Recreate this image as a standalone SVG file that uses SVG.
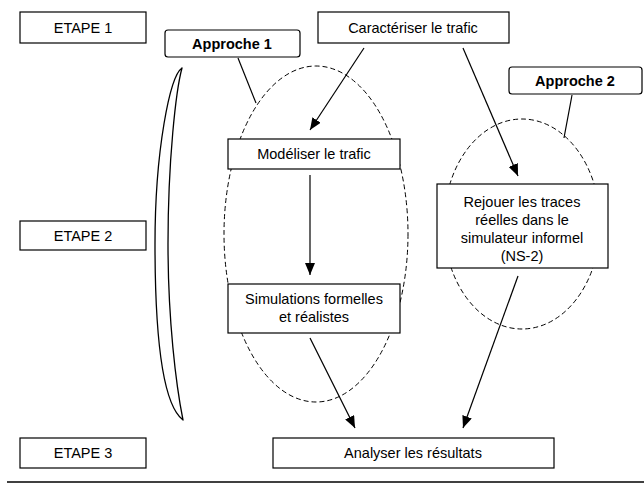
<svg xmlns="http://www.w3.org/2000/svg" width="644" height="486" viewBox="0 0 644 486">
<style>
.box{fill:#fff;stroke:#000;stroke-width:1.2}
.t{font-family:"Liberation Sans",Arial,sans-serif;font-size:14.5px;fill:#000;text-anchor:middle}
.b{font-weight:bold}
.dash{fill:none;stroke:#000;stroke-width:1;stroke-dasharray:5,3}
.ln{fill:none;stroke:#000;stroke-width:1.2}
</style>
<defs>
<marker id="ah" viewBox="0 0 12 10" refX="12" refY="5" markerWidth="12" markerHeight="10" markerUnits="userSpaceOnUse" orient="auto">
<path d="M0,0 L12,5 L0,10 Z" fill="#000"/>
</marker>
</defs>
<g id="ellipses">
<ellipse class="dash" cx="316" cy="234" rx="92" ry="168"/>
<ellipse class="dash" cx="522" cy="224" rx="78" ry="105"/>
</g>
<g id="bracket">
<path d="M182,68 C170,76 155,150 155,244 C155,340 163,405 183,420 C176,385 168,320 168,244 C168,160 176,90 182,68 Z" fill="none" stroke="#000" stroke-width="1.3" stroke-linejoin="round"/>
</g>
<g id="etape1"><rect class="box" x="20" y="12" width="126" height="31"/><text class="t" x="83" y="33">ETAPE 1</text></g>
<g id="etape2"><rect class="box" x="20" y="221" width="126" height="29"/><text class="t" x="83" y="241">ETAPE 2</text></g>
<g id="etape3"><rect class="box" x="20" y="438" width="126" height="30"/><text class="t" x="83" y="458">ETAPE 3</text></g>
<g id="approche1"><rect class="box" x="165" y="30" width="135" height="27" rx="3"/><text class="t b" x="232" y="49">Approche 1</text></g>
<g id="approche2"><rect class="box" x="509" y="67" width="133" height="27" rx="3"/><text class="t b" x="575" y="86">Approche 2</text></g>
<g id="caracteriser"><rect class="box" x="318" y="12" width="191" height="31"/><text class="t" x="413" y="33">Caractériser le trafic</text></g>
<g id="modeliser"><rect class="box" x="228" y="139" width="172" height="30"/><text class="t" x="314" y="159">Modéliser le trafic</text></g>
<g id="simulations"><rect class="box" x="228" y="284" width="172" height="49"/><text class="t" x="314" y="304">Simulations formelles</text><text class="t" x="314" y="322">et réalistes</text></g>
<g id="rejouer"><rect class="box" x="437" y="184" width="171" height="84"/><text class="t" x="522" y="207">Rejouer les traces</text><text class="t" x="522" y="225">réelles dans le</text><text class="t" x="522" y="243">simulateur informel</text><text class="t" x="522" y="261">(NS-2)</text></g>
<g id="analyser"><rect class="box" x="273" y="438" width="281" height="30"/><text class="t" x="413" y="458">Analyser les résultats</text></g>
<g id="connectors">
<line class="ln" x1="238" y1="58" x2="256" y2="103"/>
<line class="ln" x1="572" y1="95" x2="564" y2="138"/>
<line class="ln" x1="364" y1="48" x2="310" y2="130" marker-end="url(#ah)"/>
<line class="ln" x1="463" y1="48" x2="518" y2="176" marker-end="url(#ah)"/>
<line class="ln" x1="310" y1="175" x2="310" y2="275" marker-end="url(#ah)"/>
<line class="ln" x1="310" y1="338" x2="355" y2="428" marker-end="url(#ah)"/>
<line class="ln" x1="518" y1="276" x2="463" y2="428" marker-end="url(#ah)"/>
</g>
<line x1="7" y1="482" x2="644" y2="482" stroke="#000" stroke-width="1.5"/>
</svg>
